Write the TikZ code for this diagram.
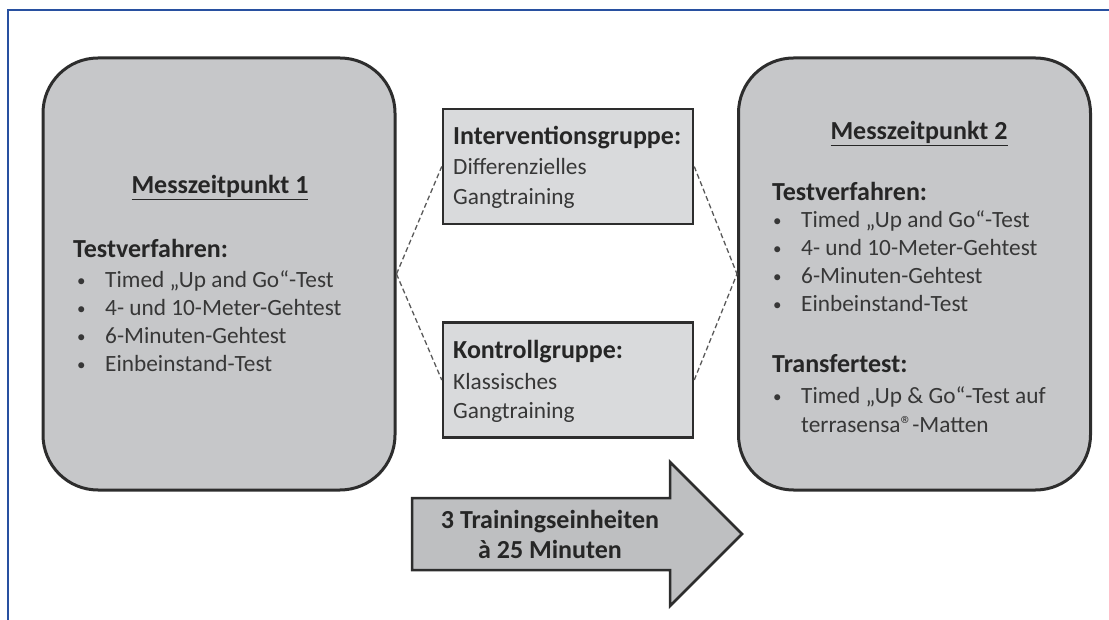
\documentclass[tikz,border=0pt]{standalone}
\usepackage{fontspec}
\setmainfont{Carlito}
\usetikzlibrary{positioning}
\definecolor{boxgray}{RGB}{198,199,201}
\definecolor{grpgray}{RGB}{217,218,220}
\definecolor{arrgray}{RGB}{190,191,193}
\definecolor{edgecol}{RGB}{45,45,45}
\definecolor{txtcol}{RGB}{55,55,55}
\definecolor{framecol}{RGB}{40,80,160}
\newcommand{\bul}[1]{\makebox[28pt][l]{\fontsize{17}{17}\selectfont\raisebox{1pt}{\textbullet}}#1}

\begin{document}
\begin{tikzpicture}[x=1pt, y=-1pt,
  every node/.style={font=\fontsize{23.3}{29}\selectfont, text=txtcol, inner sep=0pt},
  mzbox/.style={draw=edgecol, fill=boxgray, line width=3pt, rounded corners=55pt, minimum width=352pt, minimum height=432pt},
  grpbox/.style={draw=edgecol, fill=grpgray, line width=2.5pt, minimum width=250pt, minimum height=115pt},
  head/.style={font=\fontsize{26}{29}\selectfont\bfseries, text=black!85, anchor=base west},
  itm/.style={anchor=base west},
  link/.style={draw=black!65, line width=1.3pt, dash pattern=on 5pt off 3pt},
]
\useasboundingbox (0,0) rectangle (1109,620);
\draw[framecol, line width=2pt] (8,620) -- (8,10) -- (1109,10);

% measurement points
\node[mzbox] (mz1) at (219,274) {};
\node[mzbox] (mz2) at (914.5,274) {};

\node[head, anchor=base] (h1) at (220,194) {\underline{Messzeitpunkt 1}};
\node[head] (tv1) at (73,258) {Testverfahren:};
\foreach \t [count=\i from 0] in {Timed „Up and Go“-Test, 4- und 10-Meter-Gehtest, 6-Minuten-Gehtest, Einbeinstand-Test}
  \node[itm] (la\i) at (77,288+28*\i) {\bul{\t}};

\node[head, anchor=base] (h2) at (919,140) {\underline{Messzeitpunkt 2}};
\node[head] (tv2) at (772,201) {Testverfahren:};
\foreach \t [count=\i from 0] in {Timed „Up and Go“-Test, 4- und 10-Meter-Gehtest, 6-Minuten-Gehtest, Einbeinstand-Test}
  \node[itm] (lb\i) at (773,228+28*\i) {\bul{\t}};
\node[head] (tt) at (772,373) {Transfertest:};
\node[itm] (tt1) at (773,403) {\bul{Timed „Up \& Go“-Test auf}};
\node[itm] (tt2) at (801,432) {terrasensa®-Matten};

% groups
\node[grpbox] (ig) at (568,166.5) {};
\node[head] (ig1) at (453,145) {Interventionsgruppe:};
\node[itm] (ig2) at (453,175) {Differenzielles};
\node[itm] (ig3) at (453,205) {Gangtraining};

\node[grpbox] (kg) at (568,380) {};
\node[head] (kg1) at (453,359) {Kontrollgruppe:};
\node[itm] (kg2) at (453,389) {Klassisches};
\node[itm] (kg3) at (453,418) {Gangtraining};

\draw[link] (mz1.east) -- (ig.west);
\draw[link] (mz1.east) -- (kg.west);
\draw[link] (ig.east) -- (mz2.west);
\draw[link] (kg.east) -- (mz2.west);

% training arrow
\draw[draw=edgecol, fill=arrgray, line width=2.5pt, line join=miter]
  (412,498) -- (670,498) -- (670,462) -- (742,534) -- (670,606) -- (670,570) -- (412,570) -- cycle;
\node[head, anchor=base] (ar1) at (550,528) {3 Trainingseinheiten};
\node[head, anchor=base] (ar2) at (550,558) {à 25 Minuten};
\end{tikzpicture}
\end{document}
